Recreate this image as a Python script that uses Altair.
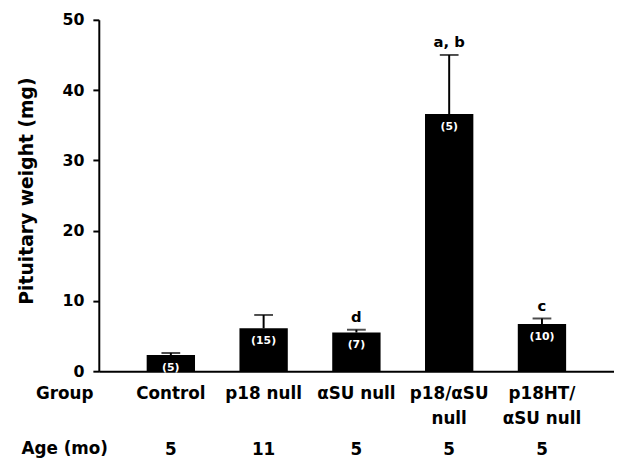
import altair as alt
import pandas as pd

groups = ["Control", "p18 null", "αSU null", "p18/αSU|null", "p18HT/|αSU null"]
weights = [2.3, 6.1, 5.5, 36.6, 6.7]
upper = [2.6, 8.0, 5.9, 45.0, 7.5]
n_labels = ["(5)", "(15)", "(7)", "(5)", "(10)"]
sig_labels = ["", "", "d", "a, b", "c"]
ages = ["5", "11", "5", "5", "5"]

df = pd.DataFrame({
    "group": groups,
    "weight": weights,
    "upper": upper,
    "n": n_labels,
    "sig": sig_labels,
    "age": ages,
})

FONT = "DejaVu Sans"
W, H = 522, 356

xscale = alt.Scale(domain=groups, paddingInner=0.479, paddingOuter=0.516)
yscale = alt.Scale(domain=[0, 50], nice=False)

x_axis = alt.Axis(
    title=["Group", "Age (mo)"],
    titleFont=FONT, titleFontSize=17, titleFontWeight="bold", titleColor="black",
    titleLineHeight=55, titleX=-35, titleY=15, titleAlign="center", titleBaseline="top",
    titleAngle=0,
    labelExpr="split(datum.label, '|')",
    labelFont=FONT, labelFontSize=17, labelFontWeight="bold", labelColor="black",
    labelLineHeight=25, labelPadding=15, labelBaseline="top", labelAngle=0,
    ticks=False, domainColor="black", domainWidth=2, grid=False,
)

y_axis = alt.Axis(
    title="Pituitary weight (mg)",
    titleFont=FONT, titleFontSize=19, titleFontWeight="bold", titleColor="black",
    titleX=-73, titleY=173, titleAngle=-90, titleAlign="center", titleBaseline="middle",
    values=[0, 10, 20, 30, 40, 50],
    labelFont=FONT, labelFontSize=16, labelFontWeight="bold", labelColor="black",
    labelPadding=9, tickSize=6, tickWidth=2, tickColor="black",
    domainColor="black", domainWidth=2, grid=False,
)

base = alt.Chart(df)

bars = base.mark_bar(color="black").encode(
    x=alt.X("group:N", scale=xscale, axis=x_axis, sort=groups),
    y=alt.Y("weight:Q", scale=yscale, axis=y_axis),
)

err = base.mark_rule(color="black", strokeWidth=2).encode(
    x=alt.X("group:N", scale=xscale, sort=groups),
    y=alt.Y("weight:Q", scale=yscale),
    y2="upper:Q",
)

caps = base.mark_tick(color="black", thickness=2, size=19, orient="horizontal").encode(
    x=alt.X("group:N", scale=xscale, sort=groups),
    y=alt.Y("upper:Q", scale=yscale),
)

nlab = base.mark_text(color="white", font=FONT, fontSize=11, fontWeight="bold",
                      baseline="middle", dy=13).encode(
    x=alt.X("group:N", scale=xscale, sort=groups),
    y=alt.Y("weight:Q", scale=yscale),
    text="n:N",
)

siglab = base.mark_text(color="black", font=FONT, fontSize=15, fontWeight="bold",
                        baseline="alphabetic", dy=-8).encode(
    x=alt.X("group:N", scale=xscale, sort=groups),
    y=alt.Y("upper:Q", scale=yscale),
    text="sig:N",
)

agelab = base.mark_text(color="black", font=FONT, fontSize=17, fontWeight="bold",
                        baseline="alphabetic").encode(
    x=alt.X("group:N", scale=xscale, sort=groups),
    y=alt.value(H + 85),
    text="age:N",
)

chart = alt.layer(bars, err, caps, nlab, siglab, agelab).properties(
    width=W, height=H,
    autosize=alt.AutoSizeParams(type="none"),
    padding={"left": 92, "top": 9, "right": 0, "bottom": 87},
    background="white",
).configure_view(stroke=None)

chart.save("out.html", embed_options={"renderer": "svg", "actions": False})
